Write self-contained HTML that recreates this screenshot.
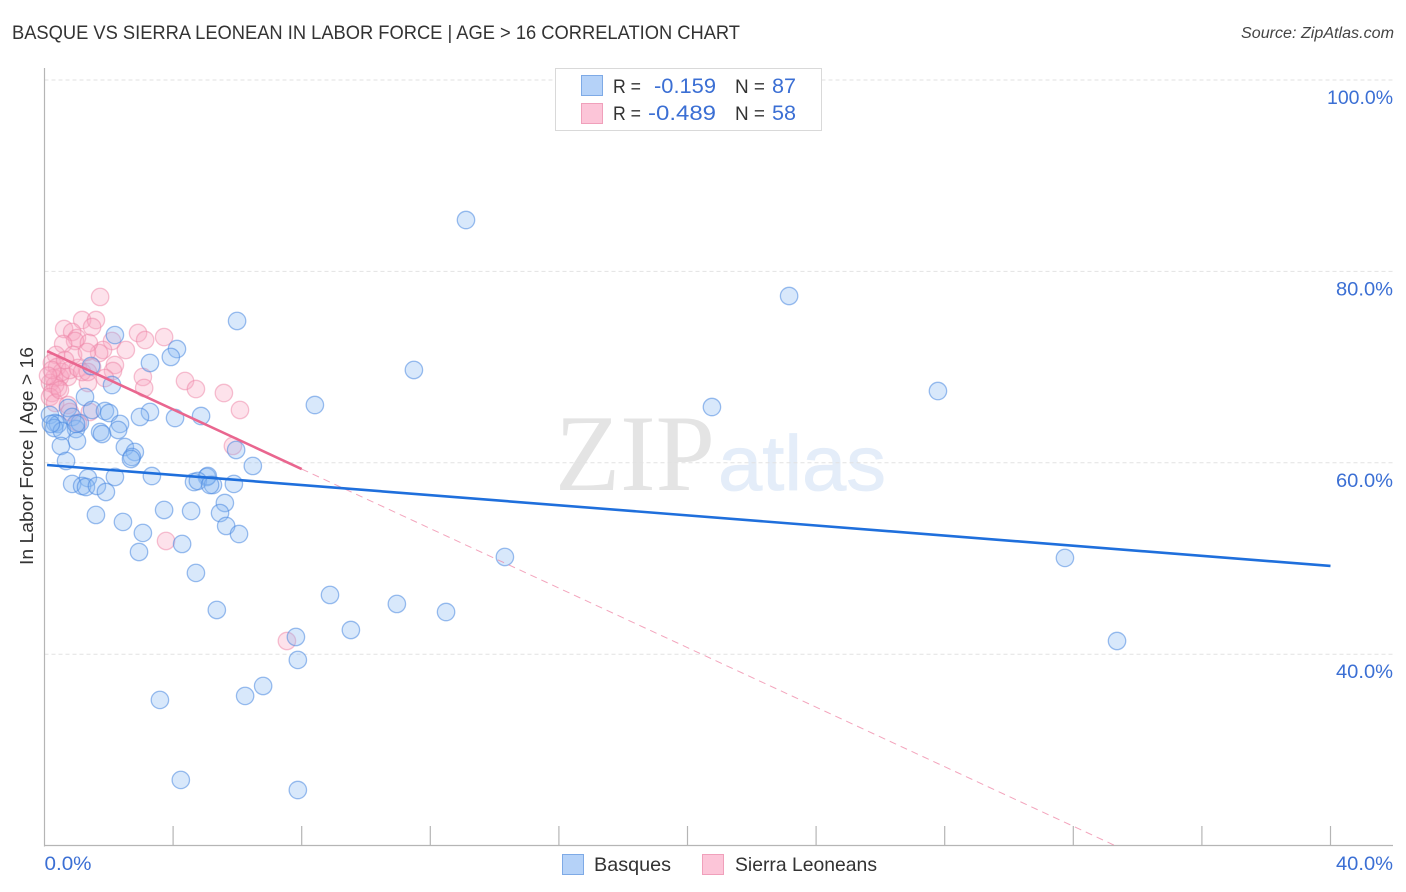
<!DOCTYPE html>
<html lang="en">
<head>
<meta charset="utf-8">
<title>Basque vs Sierra Leonean in Labor Force | Age > 16 Correlation Chart</title>
<style>
html,body{margin:0;padding:0;background:#fff;}
body{width:1406px;height:892px;overflow:hidden;font-family:"Liberation Sans",sans-serif;}
svg{display:block;}
text{font-family:"Liberation Sans",sans-serif;}
</style>
</head>
<body>
<svg id="chart" xmlns="http://www.w3.org/2000/svg" width="1406" height="892" viewBox="0 0 1406 892">
  <text x="12" y="39" font-size="19" fill="#333" textLength="728" lengthAdjust="spacingAndGlyphs">BASQUE VS SIERRA LEONEAN IN LABOR FORCE | AGE &gt; 16 CORRELATION CHART</text>
  <text x="1241" y="38" font-size="15.5" font-style="italic" fill="#444" textLength="153" lengthAdjust="spacingAndGlyphs">Source: ZipAtlas.com</text>

  <g>
    <text x="555" y="490" font-size="109" fill="#e4e4e4" style="font-family:'Liberation Serif',serif" textLength="160" lengthAdjust="spacingAndGlyphs">ZIP</text>
    <text x="718" y="490" font-size="78" fill="#e4edf9" stroke="#e4edf9" stroke-width="0.8" textLength="168" lengthAdjust="spacingAndGlyphs">atlas</text>
  </g>

  <g id="grid"></g>
  <g id="axes"></g>
  <g id="pink-points"></g>
  <g id="blue-points"></g>
  <g id="trends"></g>

  <text transform="translate(33,456) rotate(-90)" font-size="18.5" fill="#333" text-anchor="middle" textLength="218" lengthAdjust="spacingAndGlyphs">In Labor Force | Age &gt; 16</text>

  <g>
    <rect x="555.5" y="68.5" width="266" height="62" fill="#fff" stroke="#d9d9d9" stroke-width="1"/>
    <rect x="581.5" y="75.5" width="21" height="20" fill="#b5d2f8" stroke="#7eaae6"/>
    <rect x="581.5" y="103.5" width="21" height="20" fill="#fcc5d8" stroke="#f0a0bb"/>
    <text x="613" y="93" font-size="19" fill="#333" textLength="28" lengthAdjust="spacingAndGlyphs">R =</text>
    <text x="654" y="93" font-size="21.5" fill="#3b6fd4" textLength="62" lengthAdjust="spacingAndGlyphs">-0.159</text>
    <text x="735" y="93" font-size="19" fill="#333" textLength="30" lengthAdjust="spacingAndGlyphs">N =</text>
    <text x="772" y="93" font-size="21.5" fill="#3b6fd4" textLength="24" lengthAdjust="spacingAndGlyphs">87</text>
    <text x="613" y="120" font-size="19" fill="#333" textLength="28" lengthAdjust="spacingAndGlyphs">R =</text>
    <text x="648" y="120" font-size="21.5" fill="#3b6fd4" textLength="68" lengthAdjust="spacingAndGlyphs">-0.489</text>
    <text x="735" y="120" font-size="19" fill="#333" textLength="30" lengthAdjust="spacingAndGlyphs">N =</text>
    <text x="772" y="120" font-size="21.5" fill="#3b6fd4" textLength="24" lengthAdjust="spacingAndGlyphs">58</text>
  </g>

  <g>
    <rect x="562.5" y="854.5" width="21" height="20" fill="#b5d2f8" stroke="#7eaae6"/>
    <text x="594" y="871" font-size="19.5" fill="#333" textLength="77" lengthAdjust="spacingAndGlyphs">Basques</text>
    <rect x="702.5" y="854.5" width="21" height="20" fill="#fcc5d8" stroke="#f0a0bb"/>
    <text x="735" y="871" font-size="19.5" fill="#333" textLength="142" lengthAdjust="spacingAndGlyphs">Sierra Leoneans</text>
  </g>
</svg>

<script>
const yTickValues = [100, 80, 60, 40];
const yTickLabels = ["100.0%", "80.0%", "60.0%", "40.0%"];
const xTickValues = [4, 8, 12, 16, 20, 24, 28, 32, 36, 40];
const xEndValues = [0, 40];
const xEndLabels = ["0.0%", "40.0%"];

const basquesX = [13.11,23.16,5.99,2.19,4.12,3.93,3.28,1.45,2.10,11.49,27.79,1.26,8.41,20.76,0.73,1.48,1.88,2.01,3.28,2.97,4.06,4.87,0.17,0.86,0.33,0.42,0.30,0.98,1.10,0.54,2.35,2.29,1.73,1.79,1.01,0.51,2.50,2.81,2.72,2.69,5.96,0.67,6.48,3.34,2.19,1.35,5.05,5.08,4.65,4.77,0.86,1.17,1.29,1.63,5.24,5.15,5.89,1.91,5.61,5.46,4.56,3.72,1.60,2.44,5.65,6.05,3.06,4.28,2.94,14.32,31.74,4.71,8.88,10.96,5.36,12.49,9.53,7.82,33.36,7.88,6.80,6.24,3.59,4.24,7.88,0.20,0.98];
const basquesY = [85.37,77.43,74.82,73.35,71.89,71.06,70.43,70.12,68.13,69.70,67.50,66.88,66.04,65.83,65.73,65.52,65.41,65.20,65.31,64.79,64.68,64.89,65.00,64.79,64.16,64.05,63.64,63.53,64.16,63.32,64.06,63.43,63.22,63.01,62.28,61.76,61.65,61.13,60.61,60.40,61.34,60.19,59.67,58.62,58.52,58.41,58.52,58.62,57.99,58.10,57.79,57.58,57.47,57.58,57.68,57.68,57.79,56.95,55.80,54.75,54.96,55.07,54.55,53.82,53.40,52.56,52.67,51.52,50.68,50.16,50.06,48.49,46.19,45.25,44.62,44.41,42.53,41.80,41.38,39.40,36.68,35.64,35.22,26.86,25.81,64.06,64.06];

const sierraX = [1.73,1.17,1.60,1.48,0.61,0.86,1.01,0.95,2.10,2.91,3.13,3.72,2.53,1.82,1.70,1.38,0.58,0.36,0.89,1.32,2.19,2.13,1.48,1.88,3.06,3.10,4.37,4.71,5.58,6.08,1.35,0.73,0.42,5.86,3.78,7.54,0.23,0.39,0.48,0.30,0.17,0.33,0.54,0.79,1.04,1.17,0.23,0.11,0.23,0.17,0.33,0.73,0.79,1.41,1.04,0.48,0.64,1.35];
const sierraY = [77.33,74.92,74.92,74.19,73.98,73.67,73.04,72.73,72.73,73.56,72.83,73.14,71.79,71.79,71.47,72.52,72.41,71.27,71.27,71.58,70.22,69.59,70.01,68.86,68.97,67.82,68.55,67.71,67.29,65.52,68.34,68.97,67.82,61.76,51.83,41.38,70.43,70.01,68.97,68.86,68.34,68.13,69.49,69.70,69.91,69.49,69.70,69.10,67.29,66.88,66.25,66.04,65.31,65.31,64.16,67.60,70.74,69.49];

const basquesTrendX = [0.08, 40];
const basquesTrendY = [59.77, 49.22];
const sierraSolidX = [0.08, 8];
const sierraSolidY = [71.68, 59.35];
const sierraDashX = [8, 33.3];
const sierraDashY = [59.35, 20];

const NS = "http://www.w3.org/2000/svg";
const xScale = function (v) { return 44.5 + v * 32.15; };
const yScale = function (v) { return 80 + (100 - v) * 9.57; };
const make = function (tag, attrs, parent) {
  const el = document.createElementNS(NS, tag);
  Object.keys(attrs).forEach(function (k) { el.setAttribute(k, attrs[k]); });
  parent.appendChild(el);
  return el;
};

const grid = document.getElementById("grid");
const axes = document.getElementById("axes");

yTickValues.forEach(function (v, i) {
  const line = make("line", {x1: 44.5, x2: 1393, y1: yScale(v), y2: yScale(v), stroke: "#e2e2e2", "stroke-width": 1, "stroke-dasharray": "4 3"}, grid);
  
  
  const label = make("text", {x: 1393, y: yScale(v) + 24, "font-size": 19.5, fill: "#3b6fd4", "text-anchor": "end", textLength: yTickLabels[i].length === 6 ? 66 : 57, lengthAdjust: "spacingAndGlyphs"}, axes);
  
  
  label.textContent = yTickLabels[i];
});

const leftAxis = make("line", {x1: 44.5, x2: 44.5, y1: 68, y2: 846.5, stroke: "#b5b5b5", "stroke-width": 1.2}, axes);


const bottomAxis = make("line", {x1: 44, x2: 1393, y1: 845.5, y2: 845.5, stroke: "#b5b5b5", "stroke-width": 1.2}, axes);



xTickValues.forEach(function (v) {
  const tick = make("line", {x1: xScale(v), x2: xScale(v), y1: 826, y2: 846, stroke: "#b5b5b5", "stroke-width": 1.2}, axes);
  
  
});

xEndValues.forEach(function (v, i) {
  const label = make("text", {x: i === 0 ? xScale(v) : 1393, y: 870, "font-size": 19.5, fill: "#3b6fd4", "text-anchor": i === 0 ? "start" : "end", textLength: i === 0 ? 47 : 57, lengthAdjust: "spacingAndGlyphs"}, axes);
  
  
  label.textContent = xEndLabels[i];
});

const pinkGroup = document.getElementById("pink-points");
sierraX.forEach(function (v, i) {
  const dot = make("circle", {cx: xScale(v), cy: yScale(sierraY[i]), r: 8.7, fill: "#f8a8c2", "fill-opacity": 0.33, stroke: "#ee84a5", "stroke-opacity": 0.5, "stroke-width": 1.3}, pinkGroup);
  
  
});

const blueGroup = document.getElementById("blue-points");
basquesX.forEach(function (v, i) {
  const dot = make("circle", {cx: xScale(v), cy: yScale(basquesY[i]), r: 8.7, fill: "#8ab8f2", "fill-opacity": 0.33, stroke: "#4a88e0", "stroke-opacity": 0.55, "stroke-width": 1.3}, blueGroup);
  
  
});

const trends = document.getElementById("trends");
const sierraDash = make("line", {x1: xScale(sierraDashX[0]), y1: yScale(sierraDashY[0]), x2: xScale(sierraDashX[1]), y2: yScale(sierraDashY[1]), stroke: "#ee7ea0", "stroke-width": 1, "stroke-dasharray": "7 5", "stroke-opacity": 0.7}, trends);


const sierraSolid = make("line", {x1: xScale(sierraSolidX[0]), y1: yScale(sierraSolidY[0]), x2: xScale(sierraSolidX[1]), y2: yScale(sierraSolidY[1]), stroke: "#e9668f", "stroke-width": 2.6}, trends);


const basquesTrend = make("line", {x1: xScale(basquesTrendX[0]), y1: yScale(basquesTrendY[0]), x2: xScale(basquesTrendX[1]), y2: yScale(basquesTrendY[1]), stroke: "#1f6fdc", "stroke-width": 2.6}, trends);


</script>
</body>
</html>
